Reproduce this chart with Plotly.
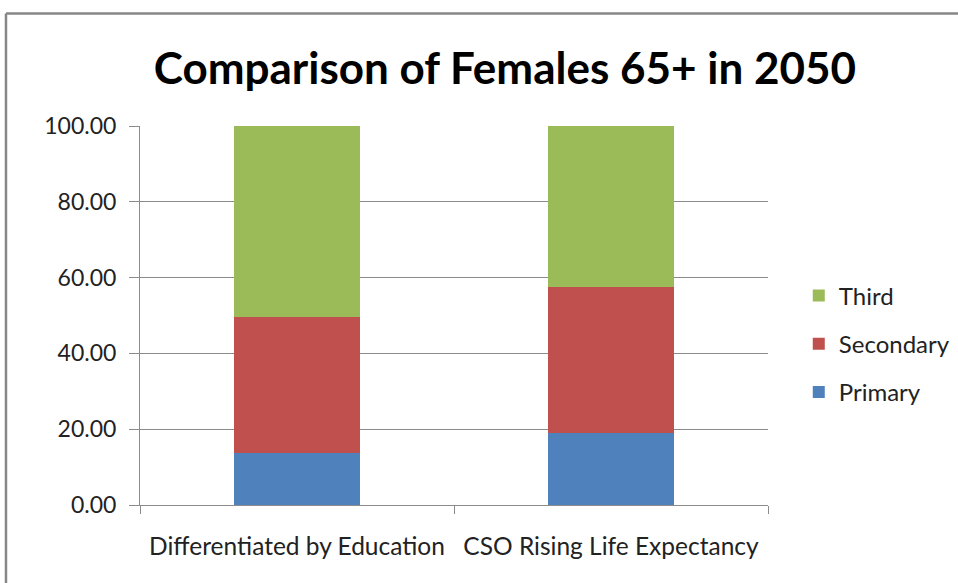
import plotly.graph_objects as go

categories = ["Differentiated by Education", "CSO Rising Life Expectancy"]
primary = [13.7, 19.1]
secondary = [35.9, 38.4]
third = [50.4, 42.5]

font_family = "Lato, Carlito, Calibri, sans-serif"

fig = go.Figure()
fig.add_trace(go.Bar(x=categories, y=primary, name="Primary", legendgroup="p",
                     legendrank=3, marker_color="#4F81BD"))
fig.add_trace(go.Bar(x=categories, y=secondary, name="Secondary", legendgroup="s",
                     legendrank=2, marker_color="#C0504D"))
fig.add_trace(go.Bar(x=categories, y=third, name="Third", legendgroup="t",
                     legendrank=1, marker_color="#9BBB59"))
fig.update_traces(marker_line_width=0)

fig.update_layout(
    barmode="stack",
    bargap=0.6,
    width=958,
    height=583,
    margin=dict(l=140, r=190, t=126, b=78, autoexpand=False),
    paper_bgcolor="white",
    plot_bgcolor="white",
    font=dict(family=font_family, color="#222222", size=24),
    title=dict(
        text="<b>Comparison of Females 65+ in 2050</b>",
        x=0.527, xref="container", xanchor="center",
        y=0.883, yref="container", yanchor="middle",
        font=dict(size=44, color="black", family=font_family),
    ),
    legend=dict(
        x=1.049, xanchor="left", y=0.425, yanchor="middle",
        traceorder="grouped",
        font=dict(size=24),
        itemwidth=30,
        tracegroupgap=14,
    ),
    showlegend=True,
)

fig.update_yaxes(
    range=[0, 100], dtick=20, tickformat=".2f",
    showgrid=True, gridcolor="#8c8c8c", gridwidth=1,
    showline=True, linecolor="#8c8c8c", linewidth=1,
    ticks="outside", ticklen=10, tickcolor="#8c8c8c",
    tickfont=dict(size=23), zeroline=False,
    ticklabelstandoff=8,
)
fig.update_xaxes(
    showline=True, linecolor="#8c8c8c", linewidth=1,
    ticks="outside", ticklen=8, tickcolor="#8c8c8c",
    tickson="boundaries", tickfont=dict(size=24.5),
    ticklabelstandoff=20,
)

# outer chart border (cropped: only top and left edges visible)
fig.add_shape(type="line", xref="paper", yref="paper",
              x0=-0.2134, x1=1.35, y0=1.297, y1=1.297,
              line=dict(color="#878787", width=2.5))
fig.add_shape(type="line", xref="paper", yref="paper",
              x0=-0.2134, x1=-0.2134, y0=1.297, y1=-0.25,
              line=dict(color="#878787", width=2.5))

fig.write_html("out.html", config={"displayModeBar": False},
               post_script="document.body.style.margin='0';")
